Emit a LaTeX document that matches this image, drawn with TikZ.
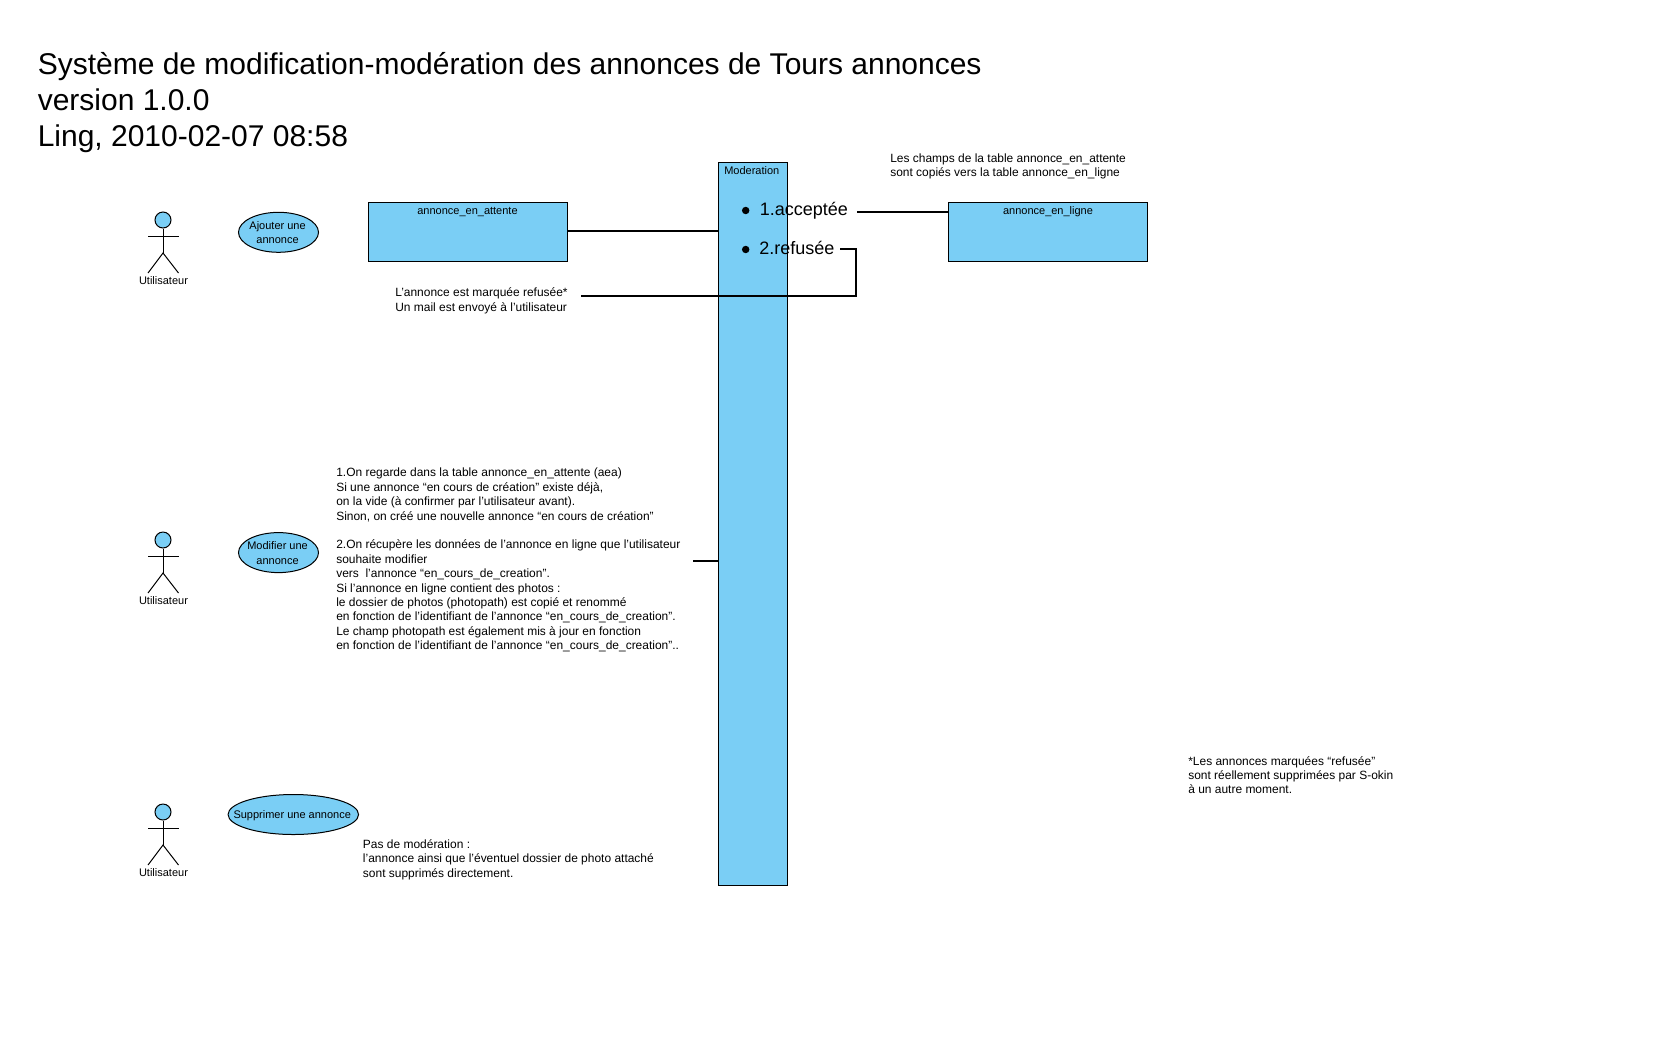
\documentclass[tikz,border=0pt]{standalone}
\usepackage{fontspec}
\setmainfont{Liberation Sans}
\usetikzlibrary{shapes.geometric}
\definecolor{fillblue}{HTML}{7ACEF5}
\tikzset{
  x=0.75pt,y=-0.75pt,
  small/.style={font=\fontsize{8.25}{10.8}\selectfont},
  note/.style={font=\fontsize{8.98}{10.8}\selectfont,align=left,anchor=west,inner sep=0pt},
  label/.style={small,inner sep=0pt,anchor=center,align=center},
  title/.style={font=\fontsize{22.5}{27}\selectfont,align=left,anchor=north west,inner sep=0pt},
  big/.style={font=\fontsize{13.5}{16}\selectfont,anchor=west,inner sep=0pt},
  pxsize/.style 2 args={minimum width=#1*0.75pt,minimum height=#2*0.75pt,inner sep=0pt},
  blue box/.style={draw=black,fill=fillblue,line width=0.75pt},
  usecase/.style={blue box,ellipse,inner sep=0pt},
  wire/.style={draw=black,line width=1.5pt},
  bullet/.style={circle,fill=black,minimum size=5.6pt,inner sep=0pt},
  pics/actor/.style={code={
    \node[blue box,circle,minimum size=12pt,inner sep=0pt] (-head) at (0,0) {};
    \draw[line width=0.75pt] (-head.south) -- (0,33) coordinate (-hip);
    \draw[line width=0.75pt] (-15,16.5) -- (16,16.5);
    \draw[line width=0.75pt] (-15,53) -- (-hip) -- (15.5,53);
    \node[label] (-lab) at (0.5,61) {Utilisateur};
  }}
}
\begin{document}
\begin{tikzpicture}
\useasboundingbox (0,0) rectangle (1680,1050);
\node[title] (title) at (37.5,52.4) {Système de modification-modération des annonces de Tours annonces\\version 1.0.0\\Ling, 2010-02-07 08:58};

\node[blue box,pxsize={199}{59}] (attente) at (467.8,232) {};
\node[blue box,pxsize={69.5}{723}] (moderation) at (753.2,524) {};
\node[blue box,pxsize={199}{59}] (ligne) at (1048,232) {};

\node[label] (attentelab) at (467.5,212) {annonce\_en\_attente};
\node[small,anchor=west,inner sep=0pt] (moderationlab) at (724,171) {Moderation};
\node[label] (lignelab) at (1048,212) {annonce\_en\_ligne};

\pic (actora) at (163,220) {actor};
\pic (actorb) at (163,540) {actor};
\pic (actorc) at (163,812) {actor};

\node[usecase,pxsize={80}{40}] (ajouter) at (278.5,232.3) {};
\node[label] (ajouterlab) at ([xshift=-0.7pt,yshift=-0.4pt]ajouter.center) {Ajouter une\\annonce};
\node[usecase,pxsize={80}{40}] (modifier) at (278.5,552.6) {};
\node[label] (modifierlab) at ([xshift=-0.7pt,yshift=-0.4pt]modifier.center) {Modifier une\\annonce};
\node[usecase,pxsize={130.5}{40}] (supprimer) at (293.3,814.5) {};
\node[label] (supprimerlab) at ([xshift=-0.8pt,yshift=-0.8pt]supprimer.center) {Supprimer une annonce};

\node[note] (champs) at (890,166.5) {Les champs de la table annonce\_en\_attente\\sont copiés vers la table annonce\_en\_ligne};
\node[note] (refus) at (395,301) {L’annonce est marquée refusée*\\Un mail est envoyé à l’utilisateur};
\node[note,anchor=north west] (modif) at (336,468) {1.On regarde dans la table annonce\_en\_attente (aea)\\
Si une annonce “en cours de création” existe déjà,\\
on la vide (à confirmer par l’utilisateur avant).\\
Sinon, on créé une nouvelle annonce “en cours de création”\\
\\
2.On récupère les données de l’annonce en ligne que l’utilisateur\\
souhaite modifier\\
vers\ \ l’annonce “en\_cours\_de\_creation”.\\
Si l’annonce en ligne contient des photos :\\
le dossier de photos (photopath) est copié et renommé\\
en fonction de l’identifiant de l’annonce “en\_cours\_de\_creation”.\\
Le champ photopath est également mis à jour en fonction\\
en fonction de l’identifiant de l’annonce “en\_cours\_de\_creation”..};
\node[note,anchor=north west] (pasmod) at (362.7,839.5) {Pas de modération :\\l’annonce ainsi que l’éventuel dossier de photo attaché\\sont supprimés directement.};
\node[note,anchor=north west] (star) at (1188,756) {*Les annonces marquées “refusée”\\sont réellement supprimées par S-okin\\à un autre moment.};

\coordinate (attenteout) at (attente.east |- 0,230.7);
\coordinate (acceptend) at (857,212);
\coordinate (refusstart) at (840,249);
\coordinate (refuscorner) at (856,249);
\coordinate (refuscorner2) at (856,295.7);
\coordinate (refusend) at (580.7,295.7);
\coordinate (modifend) at (693,560.5);

\draw[wire] (attenteout) -- (attenteout -| moderation.west);
\draw[wire] (acceptend) -- (acceptend -| ligne.west);
\draw[wire] (refusstart) -- (refuscorner) -- (refuscorner2) -- (refusend);
\draw[wire] (modifend) -- (modifend -| moderation.west);

\node[bullet] (ba) at (745.7,210.5) {};
\node[bullet] (bb) at (745.7,249.5) {};
\node[big] (accept) at (759.5,211.2) {1.acceptée};
\node[big] (refusee) at (759,248) {2.refusée};
\end{tikzpicture}
\end{document}
